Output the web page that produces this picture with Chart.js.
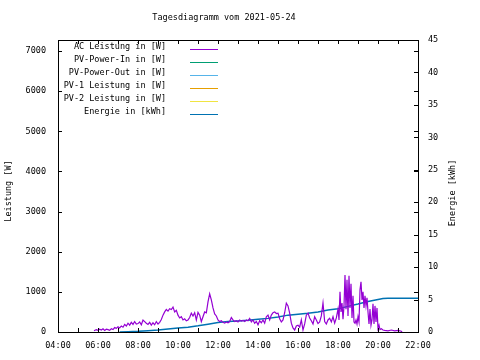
<!DOCTYPE html>
<html>
<head>
<meta charset="utf-8">
<script src="https://cdn.jsdelivr.net/npm/chart.js@4.4.1/dist/chart.umd.min.js"></script>
<style>
  html, body { margin: 0; padding: 0; background: #fff; }
  #chart { display: block; }
</style>
</head>
<body>
<canvas id="chart" width="480" height="360"></canvas>
<script>
const titleText = 'Tagesdiagramm vom 2021-05-24';
const seriesLabels = ['AC Leistung in [W]', 'PV-Power-In in [W]', 'PV-Power-Out in [W]',
  'PV-1 Leistung in [W]', 'PV-2 Leistung in [W]', 'Energie in [kWh]'];
const seriesColors = ['#9400d3', '#009e73', '#56b4e9', '#e69f00', '#f0e442', '#0072b2'];
const leftTicks = [0, 1000, 2000, 3000, 4000, 5000, 6000, 7000];
const rightTicks = [0, 5, 10, 15, 20, 25, 30, 35, 40, 45];

// AC Leistung (W)
const acTimes = ['05:48','05:55','06:00','06:05','06:10','06:15','06:20','06:25','06:30','06:35','06:40','06:45','06:50','06:55',
  '07:00','07:05','07:10','07:15','07:20','07:25','07:30','07:35','07:40','07:45','07:50','07:55',
  '08:00','08:05','08:10','08:15','08:20','08:25','08:30','08:35','08:40','08:45','08:50','08:55',
  '09:00','09:05','09:10','09:15','09:20','09:25','09:30','09:35','09:40','09:45','09:50','09:55',
  '10:00','10:05','10:10','10:15','10:20','10:25','10:30','10:35','10:40','10:45','10:50','10:55',
  '11:00','11:05','11:10','11:15','11:20','11:25','11:30','11:35','11:40','11:45','11:50','11:55',
  '12:00','12:05','12:10','12:15','12:20','12:25','12:30','12:35','12:40','12:45','12:50','12:55',
  '13:00','13:05','13:10','13:15','13:20','13:25','13:30','13:35','13:40','13:45','13:50','13:55',
  '14:00','14:05','14:10','14:15','14:20','14:25','14:30','14:35','14:40','14:45','14:50','14:55',
  '15:00','15:05','15:10','15:15','15:20','15:25','15:30','15:35','15:40','15:45','15:50','15:55',
  '16:00','16:05','16:10','16:15','16:20','16:25','16:30','16:35','16:40','16:45','16:50','16:55',
  '17:00','17:05','17:10','17:15','17:20','17:25','17:30','17:35','17:40','17:45','17:50','17:55',
  '18:00','18:03','18:06','18:09','18:12','18:15','18:18','18:21','18:24','18:27','18:30','18:33','18:36','18:39','18:42','18:45','18:48','18:51','18:54','18:57',
  '19:00','19:03','19:06','19:09','19:12','19:15','19:18','19:21','19:24','19:27','19:30','19:33','19:36','19:39','19:42','19:45','19:48','19:51','19:54','19:57',
  '20:00','20:03','20:06','20:10','20:15','20:20','20:30','20:40','20:50','21:00','21:10','21:12'];
const acWatt = [30,60,40,70,50,80,40,70,60,40,80,60,110,90,
  130,100,150,120,190,150,220,170,240,190,260,200,
  210,250,180,300,260,220,190,240,170,230,180,260,
  200,240,310,420,500,560,520,580,560,620,500,540,
  420,350,380,300,330,280,300,360,470,400,480,300,
  490,420,260,380,500,480,750,950,800,600,450,400,
  300,260,280,240,220,250,230,260,360,300,260,280,
  250,300,270,290,260,300,280,340,250,300,220,260,
  180,280,230,300,220,380,420,300,420,480,500,460,
  470,330,250,300,480,720,650,470,220,100,50,150,
  170,120,300,50,200,420,470,350,280,200,380,300,
  210,250,400,720,260,200,300,340,250,380,220,350,
  570,300,1000,500,720,320,650,1420,570,1300,400,1400,600,1200,350,900,250,220,300,200,
  380,250,1050,1250,800,1000,600,900,650,850,500,200,570,170,300,700,200,650,250,600,
  90,170,60,80,50,40,30,50,30,40,20,0];

// Energie (kWh)
const energyTimes = ['07:05','07:30','08:00','08:30','09:00','09:30','10:00','10:30','11:00','11:30','12:00','12:30',
  '13:00','13:30','14:00','14:30','15:00','15:30','16:00','16:30','17:00','17:30','18:00','18:30',
  '19:00','19:30','20:00','20:15','20:30','22:00'];
const energyKWh = [0,0.05,0.1,0.2,0.3,0.45,0.6,0.75,0.95,1.2,1.45,1.6,
  1.7,1.8,1.95,2.1,2.3,2.6,2.75,2.9,3.1,3.4,3.6,3.95,
  4.3,4.7,5.0,5.15,5.2,5.2];

// the other series carry no values on this day
const pvInWatt = [];
const pvOutWatt = [];
const pv1Watt = [];
const pv2Watt = [];

const FONT = '8.5px "DejaVu Sans Mono"';

function toMin(t) {
  const p = t.split(':');
  return parseInt(p[0], 10) * 60 + parseInt(p[1], 10);
}
function pad2(n) { return (n < 10 ? '0' : '') + n; }
function pairs(times, vals) {
  return vals.map((v, i) => ({ x: toMin(times[i]), y: v }));
}

// gnuplot-like frame: border, inward ticks, title, axis titles, legend
const framePlugin = {
  id: 'frame',
  afterDraw(chart) {
    const ctx = chart.ctx;
    const a = chart.chartArea;
    const sx = chart.scales.x, sy = chart.scales.y, sy2 = chart.scales.y2;
    ctx.save();
    ctx.strokeStyle = '#000';
    ctx.lineWidth = 1;
    ctx.strokeRect(Math.round(a.left) + 0.5, Math.round(a.top) + 0.5,
      Math.round(a.right - a.left), Math.round(a.bottom - a.top));
    ctx.beginPath();
    for (let m = 240; m <= 1320; m += 60) {
      const px = Math.round(sx.getPixelForValue(m)) + 0.5;
      ctx.moveTo(px, a.bottom); ctx.lineTo(px, a.bottom - 4);
      ctx.moveTo(px, a.top); ctx.lineTo(px, a.top + 4);
    }
    leftTicks.forEach(w => {
      const py = Math.round(sy.getPixelForValue(w)) + 0.5;
      ctx.moveTo(a.left, py); ctx.lineTo(a.left + 4, py);
      ctx.moveTo(a.right, py); ctx.lineTo(a.right - 4, py);
    });
    rightTicks.forEach(e => {
      const py = Math.round(sy2.getPixelForValue(e)) + 0.5;
      ctx.moveTo(a.right, py); ctx.lineTo(a.right - 4, py);
    });
    ctx.stroke();

    ctx.fillStyle = '#000';
    ctx.font = FONT;
    ctx.textBaseline = 'middle';
    ctx.textAlign = 'center';
    ctx.fillText(titleText, 224, 18);

    ctx.save();
    ctx.translate(9, 191);
    ctx.rotate(-Math.PI / 2);
    ctx.fillText('Leistung [W]', 0, 0);
    ctx.restore();
    ctx.save();
    ctx.translate(453, 193);
    ctx.rotate(-Math.PI / 2);
    ctx.fillText('Energie [kWh]', 0, 0);
    ctx.restore();

    ctx.textAlign = 'right';
    chart.data.datasets.forEach((ds, i) => {
      const y = 47 + i * 13;
      ctx.fillStyle = '#000';
      ctx.fillText(ds.label, 166, y);
      ctx.strokeStyle = ds.borderColor;
      ctx.beginPath();
      ctx.moveTo(190, Math.round(y + 2) + 0.5);
      ctx.lineTo(218, Math.round(y + 2) + 0.5);
      ctx.stroke();
    });
    ctx.restore();
  }
};

const datasets = [
  { label: seriesLabels[0], data: pairs(acTimes, acWatt), yAxisID: 'y', borderWidth: 1.2 },
  { label: seriesLabels[1], data: pvInWatt, yAxisID: 'y', borderWidth: 1 },
  { label: seriesLabels[2], data: pvOutWatt, yAxisID: 'y', borderWidth: 1 },
  { label: seriesLabels[3], data: pv1Watt, yAxisID: 'y', borderWidth: 1 },
  { label: seriesLabels[4], data: pv2Watt, yAxisID: 'y', borderWidth: 1 },
  { label: seriesLabels[5], data: pairs(energyTimes, energyKWh), yAxisID: 'y2', borderWidth: 1.5 }
].map((d, i) => Object.assign(d, {
  borderColor: seriesColors[i],
  backgroundColor: seriesColors[i],
  pointRadius: 0,
  tension: 0,
  fill: false
}));

const tickFont = { family: 'DejaVu Sans Mono', size: 8.5 };

const ctx = document.querySelector('#chart').getContext('2d');
const chart = new Chart(ctx, {
  type: 'line',
  data: { datasets: datasets },
  options: {
    responsive: false,
    animation: false,
    events: [],
    layout: { padding: { top: 40, left: 0, right: 0, bottom: 0 } },
    plugins: {
      legend: { display: false },
      title: { display: false },
      tooltip: { enabled: false }
    },
    scales: {
      x: {
        type: 'linear',
        position: 'bottom',
        min: 240,
        max: 1320,
        grid: { display: false, drawTicks: false },
        border: { display: false },
        ticks: {
          stepSize: 120,
          padding: 9,
          color: '#000',
          font: tickFont,
          maxRotation: 0,
          autoSkip: false,
          callback: v => pad2(Math.floor(v / 60)) + ':00'
        },
        afterFit: s => { s.height = 28; }
      },
      y: {
        position: 'left',
        min: 0,
        max: 7275,
        grid: { display: false, drawTicks: false },
        border: { display: false },
        ticks: { padding: 12, color: '#000', font: tickFont, autoSkip: false, callback: v => String(v) },
        afterBuildTicks: s => { s.ticks = leftTicks.map(v => ({ value: v })); },
        afterFit: s => { s.width = 58; }
      },
      y2: {
        position: 'right',
        min: 0,
        max: 45,
        grid: { display: false, drawTicks: false },
        border: { display: false },
        ticks: { padding: 10, color: '#000', font: tickFont, autoSkip: false, callback: v => String(v) },
        afterBuildTicks: s => { s.ticks = rightTicks.map(v => ({ value: v })); },
        afterFit: s => { s.width = 62; }
      }
    }
  },
  plugins: [framePlugin]
});
</script>
</body>
</html>
